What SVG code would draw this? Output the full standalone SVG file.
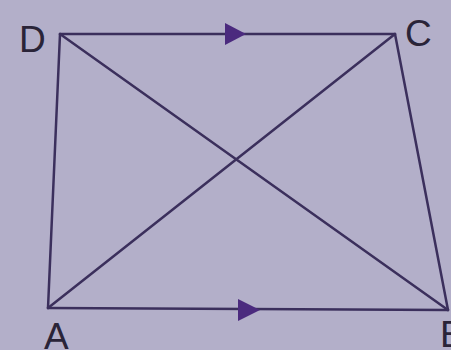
<svg xmlns="http://www.w3.org/2000/svg" width="451" height="350" viewBox="0 0 451 350">
<style>
.ln{stroke:#3b2f5c;stroke-width:2.5;fill:none;stroke-linecap:round}
.ar{fill:#4b2a7e}
.lb{font-family:"Liberation Sans",Arial,sans-serif;font-size:37px;fill:#2a2438}
</style>
<rect width="451" height="350" fill="#b3afc9"/>
<g id="connectors">
<line class="ln" x1="60" y1="34" x2="395" y2="34"/>
<line class="ln" x1="48" y1="308" x2="448" y2="310"/>
<line class="ln" x1="60" y1="34" x2="48" y2="308"/>
<line class="ln" x1="395" y1="34" x2="448" y2="310"/>
<line class="ln" x1="60" y1="34" x2="448" y2="310"/>
<line class="ln" x1="395" y1="34" x2="48" y2="308"/>
<polygon class="ar" points="225,23 246,34 225,45"/>
<polygon class="ar" points="238,299 260,310 238,321"/>
</g>
<g id="D"><text class="lb" x="19" y="52">D</text></g>
<g id="C"><text class="lb" x="405" y="46">C</text></g>
<g id="A"><text class="lb" x="44" y="349">A</text></g>
<g id="B"><text class="lb" x="440" y="347">B</text></g>
</svg>
